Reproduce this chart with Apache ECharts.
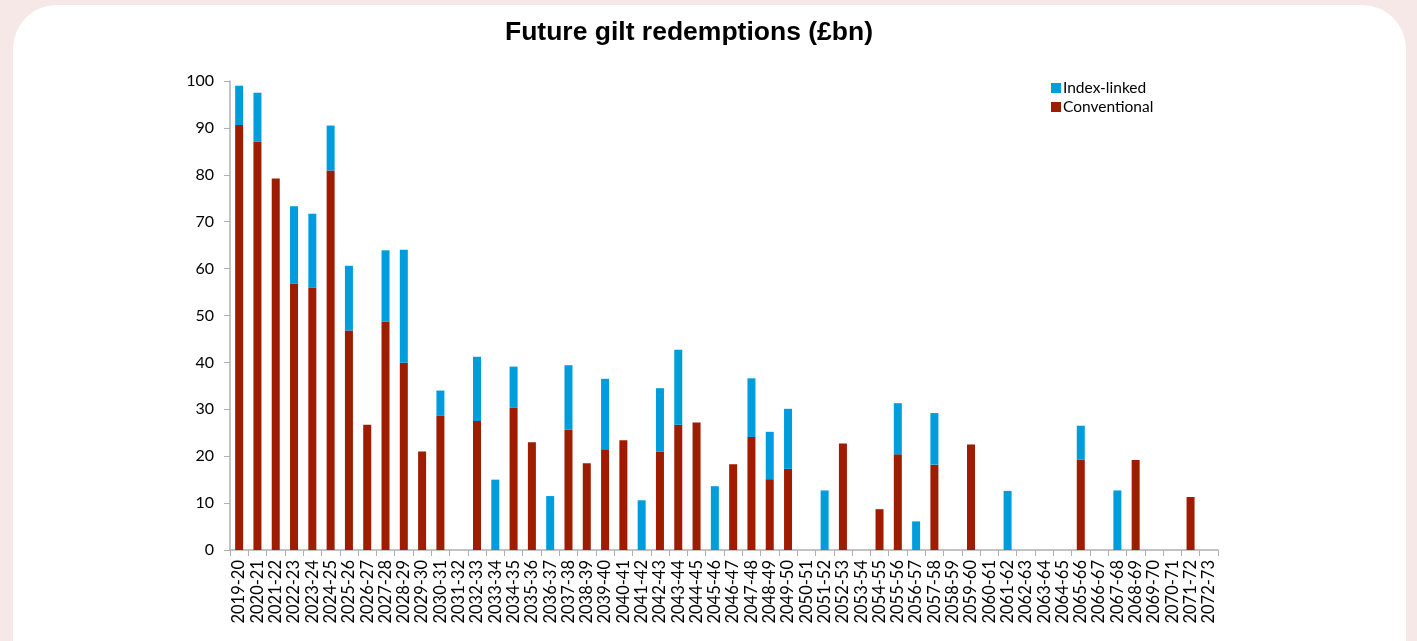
<!DOCTYPE html>
<html>
<head>
<meta charset="utf-8">
<script src="https://cdn.jsdelivr.net/npm/echarts@6/dist/echarts.min.js"></script>
<style>
  html, body { margin: 0; padding: 0; width: 1417px; height: 641px; overflow: hidden; background: #f5e8e6; }
  #card { position: absolute; left: 13px; top: 5px; width: 1393px; height: 720px; background: #fff; border-radius: 44px; }
  #chart { position: absolute; left: 0; top: 0; width: 1417px; height: 641px; }
</style>
</head>
<body>
<div id="card"></div>
<div id="chart"></div>
<script>
const categories = [
  "2019-20","2020-21","2021-22","2022-23","2023-24","2024-25","2025-26","2026-27","2027-28","2028-29",
  "2029-30","2030-31","2031-32","2032-33","2033-34","2034-35","2035-36","2036-37","2037-38","2038-39",
  "2039-40","2040-41","2041-42","2042-43","2043-44","2044-45","2045-46","2046-47","2047-48","2048-49",
  "2049-50","2050-51","2051-52","2052-53","2053-54","2054-55","2055-56","2056-57","2057-58","2058-59",
  "2059-60","2060-61","2061-62","2062-63","2063-64","2064-65","2065-66","2066-67","2067-68","2068-69",
  "2069-70","2070-71","2071-72","2072-73"
];

const conventional = [
  90.6, 87.1, 79.2, 56.8, 55.9, 80.9, 46.8, 26.7, 48.7, 39.9,
  21.0, 28.6, 0, 27.5, 0, 30.3, 23.0, 0, 25.7, 18.5,
  21.5, 23.4, 0, 21.0, 26.7, 27.2, 0, 18.3, 24.1, 15.1,
  17.3, 0, 0, 22.7, 0, 8.7, 20.4, 0, 18.2, 0,
  22.5, 0, 0, 0, 0, 0, 19.3, 0, 0, 19.2,
  0, 0, 11.3, 0
];

const indexLinked = [
  8.4, 10.4, 0, 16.5, 15.8, 9.6, 13.8, 0, 15.2, 24.1,
  0, 5.4, 0, 13.7, 15.0, 8.8, 0, 11.5, 13.7, 0,
  15.0, 0, 10.6, 13.5, 16.0, 0, 13.6, 0, 12.5, 10.1,
  12.8, 0, 12.7, 0, 0, 0, 10.9, 6.1, 11.0, 0,
  0, 0, 12.6, 0, 0, 0, 7.2, 0, 12.7, 0,
  0, 0, 0, 0
];

const yTicks = [0, 10, 20, 30, 40, 50, 60, 70, 80, 90, 100];

const chart = echarts.init(document.getElementById("chart"), null, { renderer: "canvas" });

chart.setOption({
  animation: false,
  backgroundColor: "transparent",
  title: {
    text: "Future gilt redemptions (£bn)",
    left: 684, top: 14, textAlign: "center",
    textStyle: { fontFamily: "Liberation Sans, Arial", fontWeight: "bold", fontSize: 26.5, color: "#000" }
  },
  legend: {
    data: ["Index-linked", "Conventional"],
    orient: "vertical",
    left: 1046, top: 75,
    itemWidth: 10, itemHeight: 10, itemGap: 3,
    icon: "rect",
    textStyle: { fontFamily: "Lato, sans-serif", fontSize: 15.5, color: "#000", padding: [0, 0, 0, -3] }
  },
  grid: { left: 230, right: 199, top: 81, bottom: 91 },
  xAxis: {
    type: "category",
    data: categories,
    axisLine: { lineStyle: { color: "#b0b0b0", width: 1.5 } },
    axisTick: { show: true, length: 6, lineStyle: { color: "#b0b0b0" } },
    axisLabel: {
      rotate: 90, interval: 0, margin: 10,
      fontFamily: "Lato, sans-serif", fontSize: 16.5, color: "#000"
    }
  },
  yAxis: {
    type: "value",
    min: yTicks[0], max: yTicks[yTicks.length - 1], interval: 10,
    axisLine: { show: true, lineStyle: { color: "#b0b0b0", width: 1.5 } },
    axisTick: { show: true, length: 6, lineStyle: { color: "#b0b0b0" } },
    splitLine: { show: false },
    axisLabel: { fontFamily: "Lato, sans-serif", fontSize: 16, color: "#000", margin: 16 }
  },
  series: [
    {
      name: "Conventional", type: "bar", stack: "total", data: conventional,
      barWidth: 8,
      itemStyle: { color: "#9e1c00" }
    },
    {
      name: "Index-linked", type: "bar", stack: "total", data: indexLinked,
      barWidth: 8,
      itemStyle: { color: "#009ddd" }
    }
  ]
});
</script>
</body>
</html>
